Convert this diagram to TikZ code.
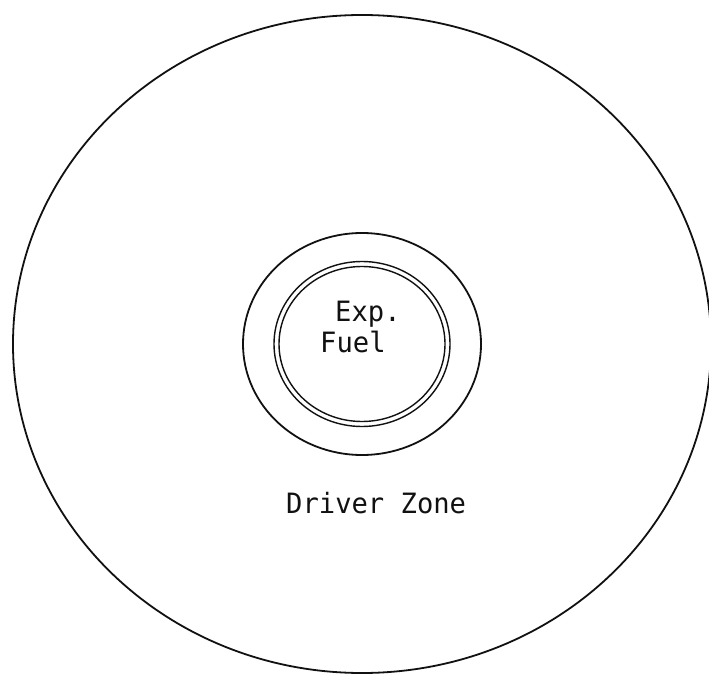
\documentclass[tikz,border=0pt]{standalone}
\usepackage{fontspec}
\newfontfamily\typewriter[FakeStretch=0.97]{DejaVu Sans Mono}
\usetikzlibrary{shapes.geometric, positioning}
\definecolor{inkblack}{HTML}{111111}

\begin{document}
\begin{tikzpicture}[x=1pt, y=1pt,
  zone/.style={draw=inkblack, ellipse, inner sep=0pt, line width=1.8pt},
  zonetext/.style={font=\typewriter\fontsize{28}{30}\selectfont, text=inkblack,
    inner sep=0pt, anchor=base west}]
  \useasboundingbox (0,0) rectangle (709,673);

  % Core centre
  \coordinate (core) at (362,329);

  % Driver zone and blanket ring
  \node[zone, minimum width=698pt, minimum height=658pt] (driver) at (core) {};
  \node[zone, minimum width=238pt, minimum height=222pt] (blanket) at (core) {};

  % Experimental fuel (double wall)
  \node[zone, line width=1.4pt, minimum width=176pt, minimum height=165pt] (clad) at (core) {};
  \node[zone, line width=1.4pt, minimum width=166pt, minimum height=155pt] (fuel) at (core) {};

  % Labels
  \node[zonetext] (expname) at (335,352) {Exp.};
  \node[zonetext] (fuelname) at (320,321) {Fuel};
  \node[zonetext] (drivername) at (286,160) {Driver Zone};
\end{tikzpicture}
\end{document}
